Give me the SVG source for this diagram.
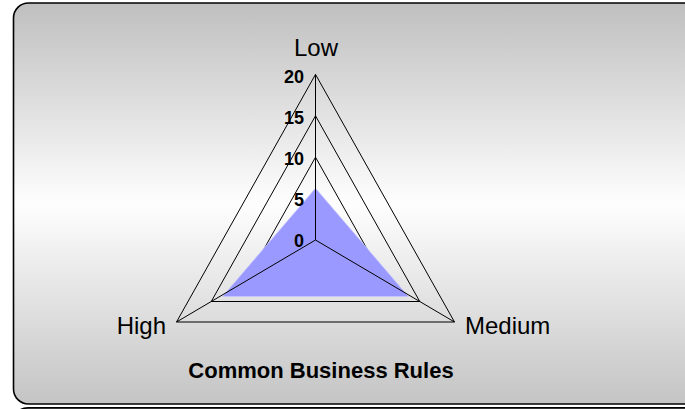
<svg xmlns="http://www.w3.org/2000/svg" width="685" height="409" viewBox="0 0 685 409">
<defs>
<linearGradient id="bg" x1="0" y1="0" x2="0" y2="1">
<stop offset="0" stop-color="#bfbfbf"/>
<stop offset="0.5" stop-color="#fefefe"/>
<stop offset="1" stop-color="#c4c4c4"/>
</linearGradient>
<style>
.grid{fill:none;stroke:#000;stroke-width:1}
.spoke{stroke:#000;stroke-width:1;fill:none}
.tick{font-family:"Liberation Sans",Arial,sans-serif;font-weight:bold;font-size:18px;fill:#000;text-anchor:end}
.cat{font-family:"Liberation Sans",Arial,sans-serif;font-size:24px;fill:#000}
.title{font-family:"Liberation Sans",Arial,sans-serif;font-weight:bold;font-size:22px;fill:#000;text-anchor:middle}
</style>
</defs>
<rect width="685" height="409" fill="#ffffff"/>
<g id="frame">
<rect x="13.5" y="3" width="700" height="401" rx="15" ry="15" fill="url(#bg)" stroke="#000" stroke-width="1.6"/>
<rect x="13" y="407.8" width="700" height="60" rx="15" ry="15" fill="#c8c8c8" stroke="#000" stroke-width="1.8"/>
</g>
<g id="grid">
<polygon class="grid" points="315.5,74.4 454.5,322 176.5,322"/>
<polygon class="grid" points="315.5,115.8 419.75,301.5 211.25,301.5"/>
<polygon class="grid" points="315.5,157.2 385,281 246,281"/>
<polygon class="grid" points="315.5,198.6 350.25,260.5 280.75,260.5"/>
</g>
<g id="series">
<polygon points="315.5,188.3 408.5,296.5 222.5,296.5" fill="#9999ff" stroke="#c8c8ff" stroke-width="0.8"/>
</g>
<g id="connectors">
<line class="spoke" x1="315.5" y1="240" x2="315.5" y2="74.4"/>
<line class="spoke" x1="315.5" y1="240" x2="454.5" y2="322"/>
<line class="spoke" x1="315.5" y1="240" x2="176.5" y2="322"/>
</g>
<g id="ticks">
<text class="tick" x="304" y="82.5">20</text>
<text class="tick" x="304" y="123.5">15</text>
<text class="tick" x="304" y="164.5">10</text>
<text class="tick" x="304" y="205.7">5</text>
<text class="tick" x="304" y="246.8">0</text>
</g>
<g id="node-low"><text class="cat" x="316" y="56" text-anchor="middle">Low</text></g>
<g id="node-high"><text class="cat" x="166" y="334" text-anchor="end">High</text></g>
<g id="node-medium"><text class="cat" x="465" y="334">Medium</text></g>
<g id="title"><text class="title" x="321" y="377.7">Common Business Rules</text></g>
</svg>
